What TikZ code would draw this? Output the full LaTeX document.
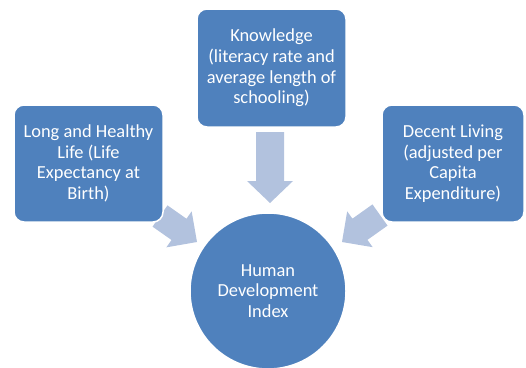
\documentclass[tikz,border=0pt]{standalone}
\usepackage{fontspec}
\setmainfont{Carlito}
\usetikzlibrary{calc}
\definecolor{boxblue}{RGB}{79,129,189}
\definecolor{arrowblue}{RGB}{178,194,222}
\tikzset{
  infobox/.style={draw=white, line width=1.5pt, fill=boxblue, rounded corners=10pt,
    text=white, align=center, inner sep=0pt,
    font=\fontsize{18.4}{20.6}\selectfont},
  hubcircle/.style={circle, draw=white, line width=1.5pt, fill=boxblue, text=white,
    align=center, inner sep=0pt, minimum size=156pt,
    font=\fontsize{18.4}{20.6}\selectfont},
  blockarrow/.style={fill=arrowblue, draw=none}
}
\newcommand{\blockarr}[4]{% tail, tip, shaft half-width, head half-width
  \fill[blockarrow]
    ($(#1)!#3!90:(#2)$) --
    ($($(#2)!22pt!(#1)$)!#3!90:(#2)$) --
    ($($(#2)!22pt!(#1)$)!#4!90:(#2)$) --
    (#2) --
    ($($(#2)!22pt!(#1)$)!#4!-90:(#2)$) --
    ($($(#2)!22pt!(#1)$)!#3!-90:(#2)$) --
    ($(#1)!#3!-90:(#2)$) -- cycle;}
\begin{document}
\begin{tikzpicture}[x=1pt, y=-1pt]
\useasboundingbox (0,0) rectangle (526,367);
% arrow anchor coordinates
\coordinate (ktail) at (270,132);
\coordinate (ktip) at (270,203);
\coordinate (ltail) at (160,216);
\coordinate (ltip) at (197,242);
\coordinate (rtail) at (380,215);
\coordinate (rtip) at (342,242);
% arrows (behind shapes)
\blockarr{ktail}{ktip}{14pt}{23pt}
\blockarr{ltail}{ltip}{13pt}{22pt}
\blockarr{rtail}{rtip}{13pt}{22pt}
% boxes
\node[infobox, minimum width=149pt, minimum height=117pt] (life) at (88.5,163.5)
  {Long and Healthy\\Life (Life\\Expectancy at\\Birth)};
\node[infobox, minimum width=149pt, minimum height=118pt] (know) at (271.5,68)
  {Knowledge\\(literacy rate and\\average length of\\schooling)};
\node[infobox, minimum width=142pt, minimum height=117pt] (living) at (453,163.5)
  {Decent Living\\(adjusted per\\Capita\\Expenditure)};
\node[hubcircle] (hdi) at (268,291) {Human\\Development\\Index};
\end{tikzpicture}
\end{document}
